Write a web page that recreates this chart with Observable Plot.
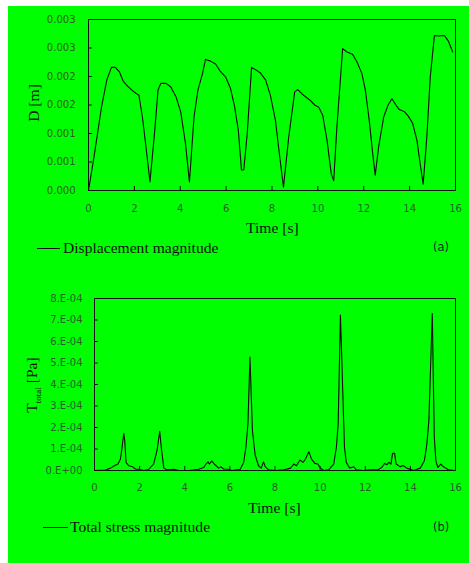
<!DOCTYPE html>
<html>
<head>
<meta charset="utf-8">
<script src="https://cdn.jsdelivr.net/npm/d3@7"></script>
<script src="https://cdn.jsdelivr.net/npm/@observablehq/plot@0.6"></script>
<style>
  html, body { margin: 0; padding: 0; background: #ffffff; width: 469px; height: 563px; overflow: hidden; }
  #bg { position: absolute; left: 8px; top: 6px; width: 461px; height: 557px; background: #00ff00; }
  .panel { position: absolute; left: 0; }
  .lbl { position: absolute; font-family: "Liberation Serif", serif; font-size: 15.6px; color: #111; white-space: nowrap; }
  .tag { position: absolute; font-family: "DejaVu Sans", sans-serif; font-size: 11.5px; color: #222; white-space: nowrap; }
  .leg { position: absolute; height: 0; border-top: 1.3px solid #111; }
</style>
</head>
<body>
<div id="bg"></div>
<div id="pa" class="panel" style="top:0px"></div>
<div id="pb" class="panel" style="top:280px"></div>

<div class="lbl" style="left:34px;top:103px;transform:translate(-50%,-50%) rotate(-90deg)">D [m]</div>
<div class="lbl" style="left:246px;top:219px">Time [s]</div>
<div class="leg" style="left:37px;top:248px;width:23px"></div>
<div class="lbl" style="left:63px;top:239px">Displacement magnitude</div>
<div class="tag" style="left:433px;top:240px">(a)</div>

<div class="lbl" style="left:33px;top:385px;transform:translate(-50%,-50%) rotate(-90deg)">T<sub style="font-size:9px">total</sub> [Pa]</div>
<div class="lbl" style="left:248px;top:499px">Time [s]</div>
<div class="leg" style="left:43px;top:527px;width:25px"></div>
<div class="lbl" style="left:70px;top:518px">Total stress magnitude</div>
<div class="tag" style="left:433px;top:520px">(b)</div>

<script>
// ---- Panel (a): displacement magnitude ----
const timeA = [0,0.24,0.57,0.8,1.0,1.17,1.35,1.51,1.70,1.98,2.20,2.35,2.49,2.68,2.89,3.03,3.15,3.38,3.58,3.81,4.02,4.23,4.40,4.60,4.77,4.97,5.10,5.32,5.54,5.73,5.98,6.19,6.37,6.53,6.67,6.77,6.92,7.11,7.28,7.50,7.72,7.93,8.15,8.32,8.50,8.73,8.99,9.12,9.38,9.67,9.86,10.04,10.21,10.40,10.58,10.69,10.83,11.08,11.27,11.51,11.70,11.92,12.07,12.24,12.39,12.50,12.65,12.87,13.06,13.23,13.45,13.55,13.78,13.95,14.13,14.32,14.46,14.59,14.75,14.90,15.08,15.26,15.52,15.69,15.88];
const dispA = [0,0.00059,0.00147,0.00194,0.00216,0.00216,0.00208,0.00192,0.00183,0.00173,0.00167,0.00129,0.00082,0.00015,0.00106,0.00176,0.00188,0.00188,0.00182,0.00165,0.00138,0.00082,0.00015,0.00129,0.00176,0.00205,0.0023,0.00227,0.00222,0.0021,0.00199,0.00179,0.00147,0.00106,0.00036,0.00036,0.001,0.00216,0.00212,0.00206,0.00194,0.00167,0.00123,0.00065,0.00006,0.00094,0.00173,0.00177,0.00167,0.00158,0.0015,0.00146,0.00132,0.00088,0.0003,0.00017,0.00112,0.00249,0.00243,0.00239,0.00226,0.00205,0.00176,0.00123,0.00065,0.00027,0.00077,0.00129,0.0015,0.00161,0.00147,0.00142,0.00138,0.0013,0.00118,0.00088,0.00047,0.00011,0.00094,0.00199,0.00272,0.00271,0.00272,0.00262,0.00243];
const yTicksA = [0,0.0005,0.001,0.0015,0.002,0.0025,0.003];
const yLabelsA = ["0.000","0.001","0.001","0.002","0.002","0.003","0.003"];

// ---- Panel (b): total stress magnitude (values in 1e-4 Pa) ----
const timeB = [0,0.49,0.71,0.9,1.04,1.15,1.22,1.30,1.34,1.40,1.52,1.69,1.81,2.03,2.18,2.40,2.62,2.77,2.89,2.96,3.07,3.21,3.51,3.73,4.17,4.62,4.84,4.94,5.03,5.09,5.20,5.31,5.40,5.50,5.61,5.72,5.94,6.09,6.46,6.61,6.71,6.80,6.89,7.0,7.12,7.27,7.39,7.49,7.57,7.72,8.02,8.39,8.69,8.83,8.95,9.10,9.24,9.35,9.50,9.62,9.77,9.90,10.01,10.16,10.38,10.60,10.72,10.80,10.90,11.08,11.16,11.31,11.49,11.60,11.93,12.22,12.59,12.74,12.86,12.96,13.05,13.14,13.21,13.30,13.37,13.55,13.67,13.84,14.14,14.44,14.62,14.73,14.82,14.97,15.06,15.13,15.22,15.35,15.47,15.69,15.94];
const stressB = [0,0.02,0.11,0.23,0.3,0.53,1.07,1.73,1.39,0.37,0.22,0.17,0.07,0.05,0,0.05,0.3,0.92,1.82,1.07,0.12,0.03,0.06,0,0,0.06,0.14,0.3,0.4,0.3,0.45,0.3,0.22,0.11,0.17,0.07,0.06,0,0.06,0.37,1.07,2.16,5.28,1.85,0.72,0.22,0.11,0.4,0.17,0.03,0,0.03,0.11,0.3,0.22,0.49,0.38,0.53,0.87,0.53,0.33,0.3,0.11,0,0.03,0.3,1.07,2.16,7.23,1.07,0.37,0.11,0.17,0.03,0,0.03,0.05,0.15,0.33,0.27,0.38,0.3,0.8,0.8,0.3,0.17,0.23,0.11,0,0.11,0.45,1.23,2.32,7.30,1.55,0.45,0.14,0.3,0.17,0.03,0];
const yTicksB = [0,1,2,3,4,5,6,7,8];
const yLabelsB = ["0.E+00","1.E-04","2.E-04","3.E-04","4.E-04","5.E-04","6.E-04","7.E-04","8.E-04"];

const xTicks = [0,2,4,6,8,10,12,14,16];
const xLabels = ["0","2","4","6","8","10","12","14","16"];

const tickFill = "#2c5c2c";
const tickFont = "DejaVu Sans, sans-serif";

function panel({data, xKey, yKey, yDomain, yTicks, yLabels, margins, H, yPad, xPad}) {
  const frameH = H - margins.top - margins.bottom;
  const frameW = 469 - margins.left - margins.right;
  return Plot.plot({
    width: 469,
    height: H,
    marginLeft: margins.left,
    marginRight: margins.right,
    marginTop: margins.top,
    marginBottom: margins.bottom,
    style: {background: "transparent", fontFamily: tickFont, fontSize: "10px", overflow: "visible"},
    x: {domain: [0, 16]},
    y: {domain: yDomain},
    marks: [
      Plot.axisX(xTicks, {tickSize: 0, tickPadding: xPad, tickFormat: (d, i) => xLabels[i], fill: tickFill, label: null, fontSize: 10}),
      Plot.axisY(yTicks, {tickSize: 0, tickPadding: yPad, tickFormat: (d, i) => yLabels[i], fill: tickFill, label: null, fontSize: 10}),
      Plot.tickX(xTicks, {x: d => d, stroke: "#111", strokeWidth: 1, insetTop: frameH - 4}),
      Plot.tickY(yTicks, {y: d => d, stroke: "#111", strokeWidth: 1, insetRight: frameW - 4}),
      Plot.frame({stroke: "#111", strokeWidth: 1}),
      Plot.line(data, {x: xKey, y: yKey, stroke: "#0a0a0a", strokeWidth: 1.1})
    ]
  });
}

const dataA = timeA.map((t, i) => ({t, d: dispA[i]}));
const dataB = timeB.map((t, i) => ({t, s: stressB[i]}));

document.getElementById("pa").append(panel({
  data: dataA, xKey: "t", yKey: "d", yDomain: [0, 0.003],
  yTicks: yTicksA, yLabels: yLabelsA,
  margins: {top: 19, bottom: 50, left: 88, right: 14}, H: 240, yPad: 13, xPad: 14
}));

document.getElementById("pb").append(panel({
  data: dataB, xKey: "t", yKey: "s", yDomain: [0, 8],
  yTicks: yTicksB, yLabels: yLabelsB,
  margins: {top: 18, bottom: 50, left: 94, right: 14}, H: 240, yPad: 12, xPad: 13
}));
</script>
</body>
</html>
